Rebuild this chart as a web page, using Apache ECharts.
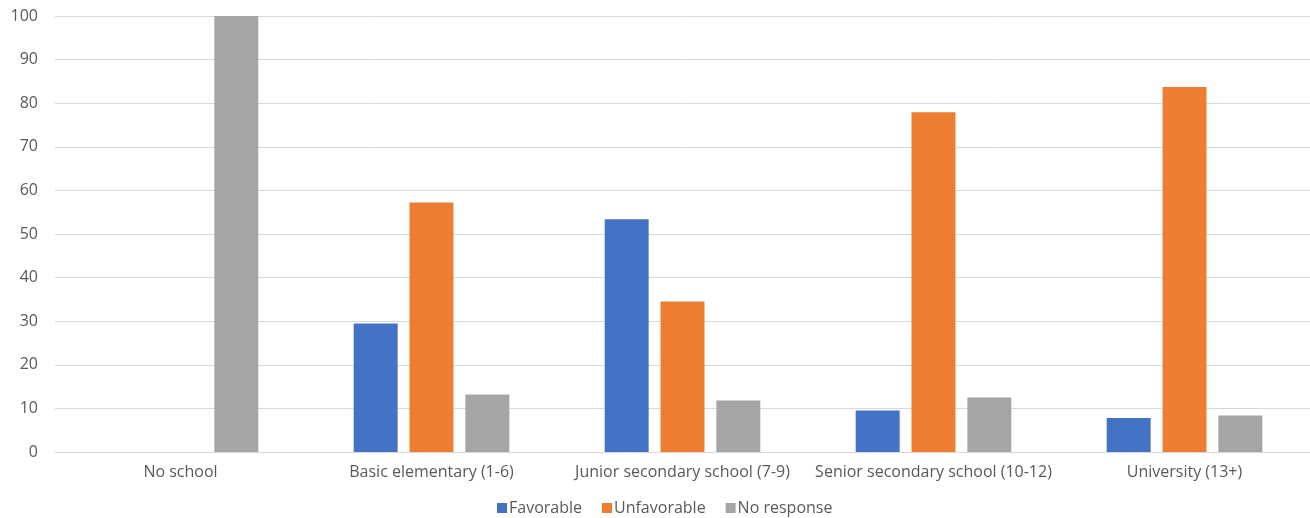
<!DOCTYPE html>
<html>
<head>
<meta charset="utf-8">
<script src="https://cdn.jsdelivr.net/npm/echarts@6/dist/echarts.min.js"></script>
<style>
  html, body { margin: 0; padding: 0; background: #fff; }
  #chart { width: 1310px; height: 518px; }
</style>
</head>
<body>
<div id="chart"></div>
<script>
// Education levels on the x axis
const categories = [
  'No school',
  'Basic elementary (1-6)',
  'Junior secondary school (7-9)',
  'Senior secondary school (10-12)',
  'University (13+)'
];

// Share of answers (%) per education level
const favorable   = [0, 29.5, 53.4, 9.5, 7.8];
const unfavorable = [0, 57.2, 34.5, 77.9, 83.7];
const noResponse  = [100, 13.2, 11.8, 12.5, 8.4];

const seriesNames = ['Favorable', 'Unfavorable', 'No response'];
const seriesColors = ['#4472C4', '#ED7D31', '#A5A5A5'];

const FONT = '"Open Sans", "Liberation Sans", Arial, sans-serif';
const TEXT = '#595959';

const chart = echarts.init(document.getElementById('chart'), null, { renderer: 'canvas' });

const makeBar = (name, data, color) => ({
  name,
  type: 'bar',
  data,
  barGap: '27%',
  barCategoryGap: '38%',
  itemStyle: { color },
  emphasis: { disabled: true }
});

chart.setOption({
  animation: false,
  backgroundColor: '#ffffff',
  textStyle: { fontFamily: FONT },
  grid: { left: 55, right: 0, top: 16, bottom: 66, containLabel: false },
  legend: {
    left: 497,
    top: 500,
    padding: 0,
    itemWidth: 10,
    itemHeight: 10,
    itemGap: 20,
    icon: 'rect',
    textStyle: { color: TEXT, fontSize: 16, fontFamily: FONT, padding: [0, 0, 0, -3] },
    data: seriesNames
  },
  xAxis: {
    type: 'category',
    data: categories,
    axisLine: { show: true, lineStyle: { color: '#d9d9d9', width: 1 } },
    axisTick: { show: false },
    axisLabel: { color: TEXT, fontSize: 16, margin: 12, interval: 0 }
  },
  yAxis: {
    type: 'value',
    min: 0,
    max: 100,
    interval: 10,
    axisLine: { show: false },
    axisTick: { show: false },
    axisLabel: { color: TEXT, fontSize: 16, margin: 17 },
    splitLine: { lineStyle: { color: '#d9d9d9', width: 1 } }
  },
  series: [
    makeBar(seriesNames[0], favorable, seriesColors[0]),
    makeBar(seriesNames[1], unfavorable, seriesColors[1]),
    makeBar(seriesNames[2], noResponse, seriesColors[2])
  ]
});
</script>
</body>
</html>
